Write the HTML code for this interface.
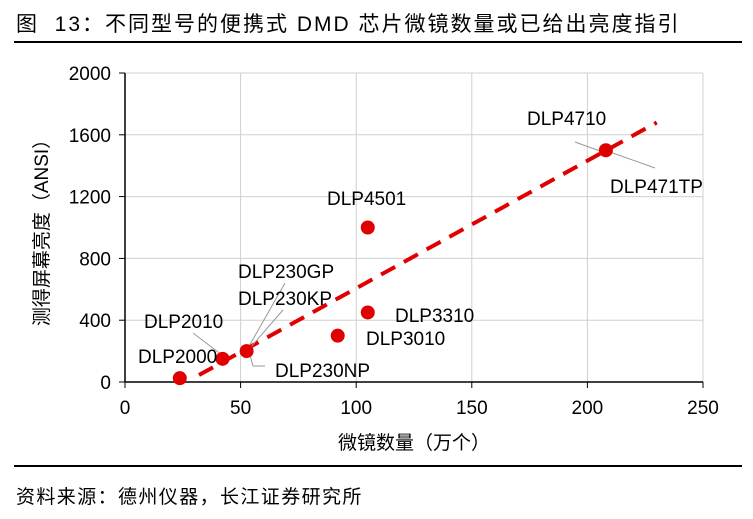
<!DOCTYPE html>
<html><head><meta charset="utf-8"><style>
body{margin:0;background:#fff;font-family:"Liberation Sans","Noto Sans CJK SC",sans-serif;}
#wrap{position:relative;width:753px;height:519px;overflow:hidden}
.t{position:absolute;white-space:nowrap;color:#000}
</style></head><body><div id="wrap">
<div class="t" style="left:16px;top:8px;font-size:21px;letter-spacing:2px">图&nbsp; 13：不同型号的便携式 DMD 芯片微镜数量或已给出亮度指引</div>
<div style="position:absolute;left:14px;top:41px;width:728px;height:2px;background:#000"></div>
<div style="position:absolute;left:14px;top:465px;width:728px;height:2px;background:#000"></div>
<div class="t" style="left:16px;top:482px;font-size:19px;letter-spacing:1.4px">资料来源：德州仪器，长江证券研究所</div>
<svg id="c" width="753" height="519" style="position:absolute;left:0;top:0"></svg>
</div>
<script>
const xTicks=[0,50,100,150,200,250];
const yTicks=[0,400,800,1200,1600,2000];
const names=["DLP2000","DLP2010","DLP230","DLP3010","DLP3310","DLP4501","DLP4710"];
const mirrors=[23.7,42.2,52.6,92,105,105,208];
const brightness=[25,150,200,300,450,1000,1500];
const trendX=[32,230];
const trendY=[45,1680];
const X0=125,X1=703,Y0=382,Y1=73;
const sx=v=>X0+(v/250)*(X1-X0);
const sy=v=>Y0-(v/2000)*(Y0-Y1);
const svg=document.getElementById('c');
const NS='http://www.w3.org/2000/svg';
function mk(tag,at,txt){const e=document.createElementNS(NS,tag);for(const k in at)e.setAttribute(k,at[k]);if(txt!=null)e.textContent=txt;svg.appendChild(e);return e;}
const F='Liberation Sans, Noto Sans CJK SC, sans-serif';
const FS=19;
xTicks.forEach(v=>{
 if(v>0){const g=mk('line',{x1:sx(v),x2:sx(v),y1:Y1,y2:Y0,stroke:'#d0d0d0'});
 
 }
 const t=mk('text',{x:sx(v),y:Y0+32,'text-anchor':'middle','font-size':FS,'font-family':F},v);
 
 
 const k=mk('line',{x1:sx(v),x2:sx(v),y1:Y0,y2:Y0+6,stroke:'#000'});
 
 
});
yTicks.forEach(v=>{
 if(v>0){const g=mk('line',{x1:X0,x2:X1,y1:sy(v),y2:sy(v),stroke:'#d0d0d0'});
 
 }
 const t=mk('text',{x:X0-14,y:sy(v)+7,'text-anchor':'end','font-size':FS,'font-family':F},v);
 
 
 const k=mk('line',{x1:X0-6,x2:X0,y1:sy(v),y2:sy(v),stroke:'#000'});
 
 
});
let a=mk('line',{x1:X0,x2:X0,y1:Y1,y2:Y0,stroke:'#000','stroke-width':1.5});


a=mk('line',{x1:X0,x2:X1,y1:Y0,y2:Y0,stroke:'#000','stroke-width':1.5});


let tt=mk('text',{x:414,y:449,'text-anchor':'middle','font-size':FS,'font-family':F},'微镜数量（万个）');


tt=mk('text',{x:0,y:0,'text-anchor':'middle','font-size':FS,'font-family':F,transform:'translate(48,228) rotate(-90)'},'测得屏幕亮度（ANSI）');


const tl=mk('line',{x1:sx(trendX[0]),y1:sy(trendY[0]),x2:sx(trendX[1]),y2:sy(trendY[1]),stroke:'#e00000','stroke-width':4,'stroke-dasharray':'16,10'});


const leaders=[[193,333,222,355],[285,283,248,348],[283,310,250,348],[250,355,253,366],[253,366,265,366],[575,142,600,151],[655,168,610,152]];
leaders.forEach(l=>{const e=mk('line',{x1:l[0],y1:l[1],x2:l[2],y2:l[3],stroke:'#999'});
 
 });
mirrors.forEach((m,i)=>{const c=mk('circle',{cx:sx(m),cy:sy(brightness[i]),r:7,fill:'#e00000'});
 
 });
const labels=[["DLP2000",138,363],["DLP2010",144,328],["DLP230GP",238,278],["DLP230KP",238,305],["DLP230NP",275,377],["DLP3010",366,345],["DLP3310",395,322],["DLP4501",327,205],["DLP4710",527,125],["DLP471TP",610,193]];
labels.forEach(l=>{const e=mk('text',{x:l[1],y:l[2],'font-size':FS,'font-family':F},l[0]);
 
 });
</script></body></html>
